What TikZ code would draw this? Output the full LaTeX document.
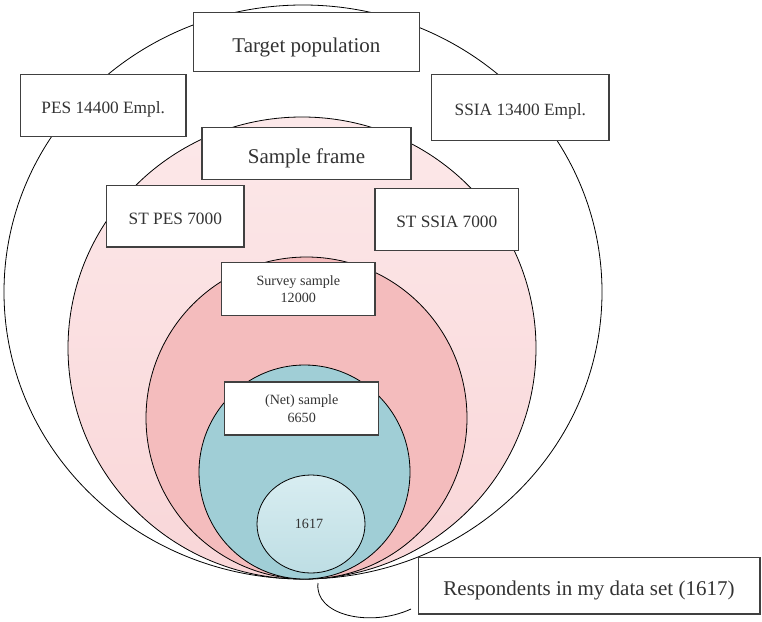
\documentclass[tikz,border=0pt]{standalone}
\usepackage{fontspec}
\setmainfont{Liberation Serif}
\usetikzlibrary{positioning}

\definecolor{frameA}{HTML}{FCE8E9}
\definecolor{frameB}{HTML}{F9D6D8}
\definecolor{surveyC}{HTML}{F4BCBD}
\definecolor{netC}{HTML}{A0CED6}
\definecolor{respA}{HTML}{D8EDF1}
\definecolor{respB}{HTML}{BEDEE4}

\begin{document}
\begin{tikzpicture}[x=1pt, y=-1pt,
  lbox/.style={draw=black!75, line width=1.3pt, fill=white, inner sep=0pt,
               align=center, text=black!80},
  big/.style={font=\fontsize{21}{25}\selectfont, text height=20pt, text depth=0pt},
  mid/.style={font=\fontsize{17.3}{21}\selectfont, text height=16pt, text depth=0pt},
  sml/.style={font=\fontsize{14.1}{17.4}\selectfont},
  ring/.style={draw=black, line width=0.8pt}]

\useasboundingbox (0,0) rectangle (762,621);

% nested sets, all touching at the bottom
\draw[ring, fill=white] (303,292) ellipse [x radius=299pt, y radius=287pt];
\draw[ring, top color=frameA, bottom color=frameB]
  (302,348) ellipse [x radius=234pt, y radius=231pt];
\draw[ring, fill=surveyC] (306.5,418) ellipse [x radius=160.5pt, y radius=161pt];
\draw[ring, fill=netC] (304.5,472) ellipse [x radius=105.5pt, y radius=107pt];
\draw[ring, top color=respA, bottom color=respB]
  (311,524) ellipse [x radius=54pt, y radius=49pt];

% labels
\node[lbox, big, minimum width=226pt, minimum height=59pt] (target)
  at (306.4,42.2) {Target population};
\node[lbox, mid, minimum width=165.5pt, minimum height=61.8pt] (pes)
  at (103.2,105.6) {PES 14400 Empl.};
\node[lbox, mid, minimum width=177.3pt, minimum height=66pt] (ssia)
  at (520.3,107.7) {SSIA 13400 Empl.};
\node[lbox, big, minimum width=209pt, minimum height=52pt] (frame)
  at (306.5,153.5) {Sample frame};
\node[lbox, mid, minimum width=137.3pt, minimum height=61.3pt] (stpes)
  at (175.3,216.3) {ST PES 7000};
\node[lbox, mid, minimum width=143.7pt, minimum height=62pt] (stssia)
  at (446.8,219.3) {ST SSIA 7000};
\node[lbox, sml, minimum width=153.4pt, minimum height=52.6pt] (survey)
  at (298.3,289) {Survey sample\\12000};
\node[lbox, sml, minimum width=154pt, minimum height=53pt] (net)
  at (301.7,408.5) {(Net) sample\\6650};
\node[sml, text=black!80] (n1617) at (309,524) {1617};
\node[lbox, big, minimum width=341.7pt, minimum height=56.5pt] (resp)
  at (589,585.8) {Respondents in my data set (1617)};

% callout line
\coordinate (tip) at (318,583);
\coordinate (tail) at (411,609);
\draw[line width=0.8pt] (tip) .. controls (314,615) and (370,628) .. (tail);

\end{tikzpicture}
\end{document}
